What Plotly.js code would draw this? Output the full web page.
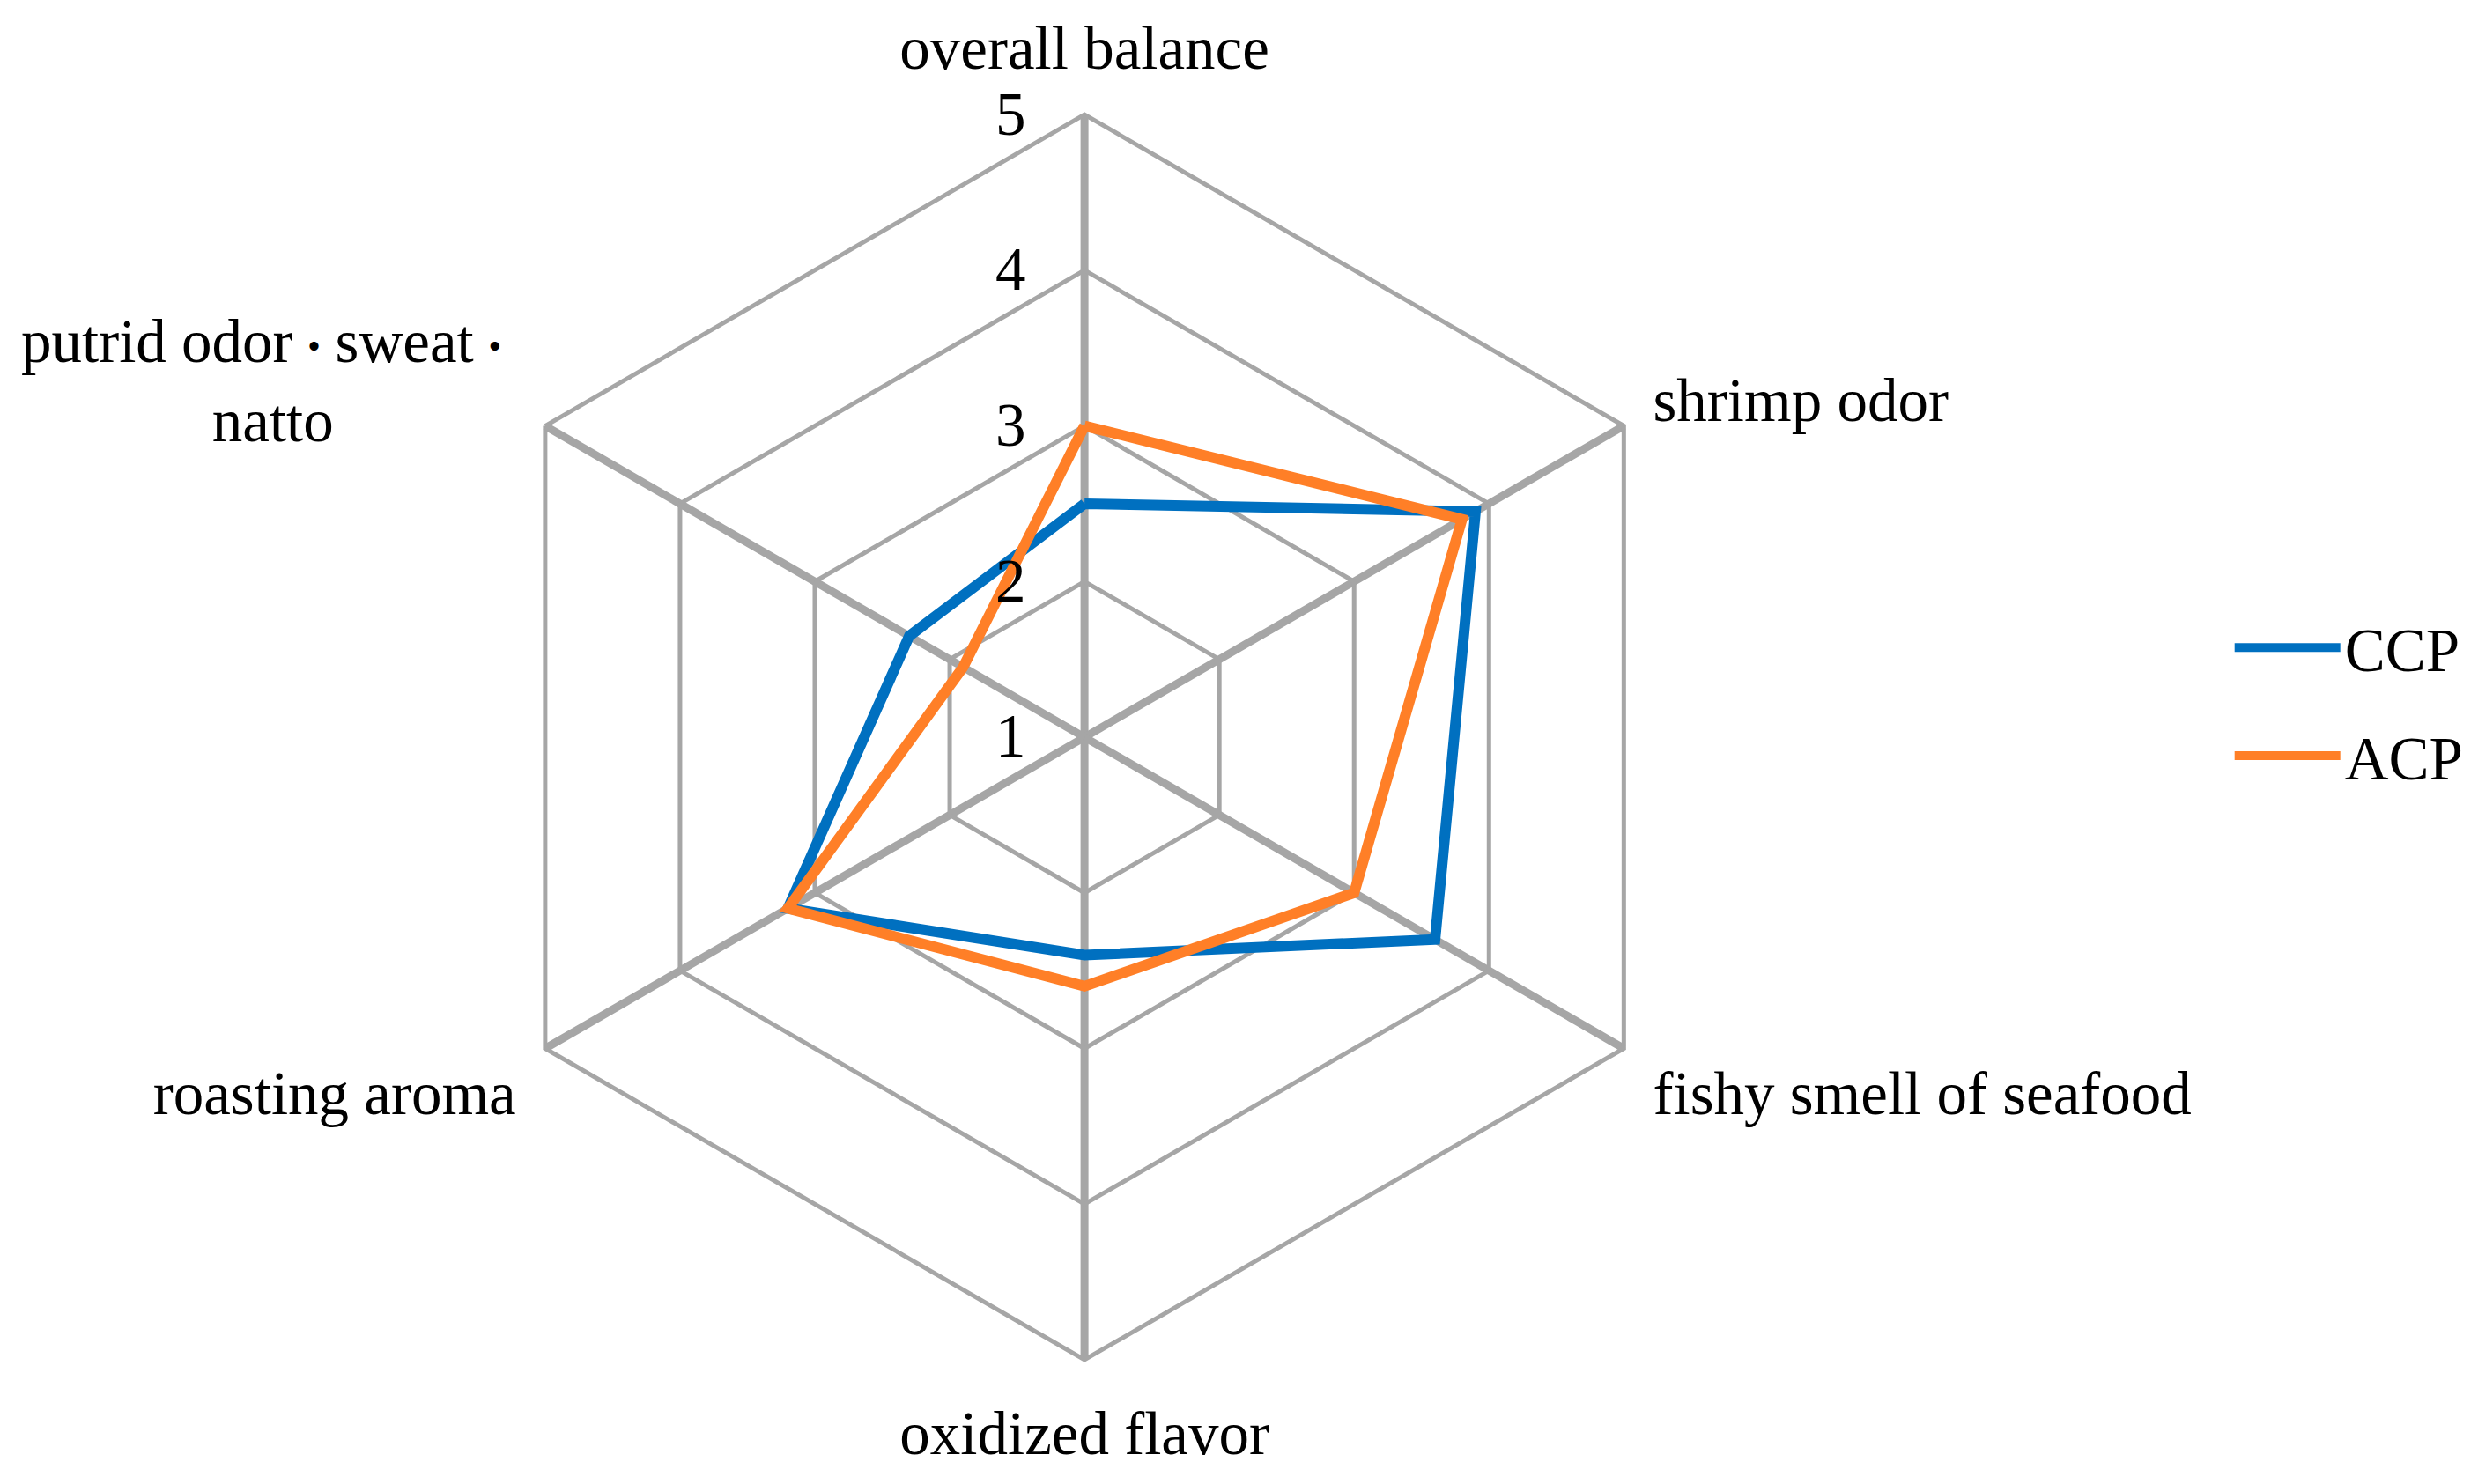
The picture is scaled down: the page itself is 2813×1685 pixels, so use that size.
<!DOCTYPE html>
<html>
<head>
<meta charset="utf-8">
<script src="https://cdn.plot.ly/plotly-3.0.1.min.js"></script>
<style>html,body{margin:0;padding:0;background:#fff;}#chart{width:2813px;height:1685px;}</style>
</head>
<body>
<div id="chart"></div>
<script>
const DOT = "<span style=\"font-size:48px\">・</span>";
const categories = ["overall balance", "shrimp odor", "fishy smell of seafood", "oxidized flavor", "roasting aroma", "putrid odor" + DOT + "sweat" + DOT + "<br>natto\u00a0\u00a0\u00a0\u00a0\u00a0\u00a0\u00a0\u00a0\u00a0\u00a0\u00a0\u00a0"];
const ccpValues = [2.5, 3.9, 3.6, 2.4, 3.2, 2.3];
const acpValues = [3.0, 3.8, 3.0, 2.6, 3.2, 1.9];
const radialTicks = [1, 2, 3, 4, 5];
const seriesNames = ["CCP", "ACP"];

function closed(arr) { return arr.concat([arr[0]]); }

const FONT = "Liberation Serif, Times New Roman, Noto Sans CJK JP, serif";
const GRID = "#A6A6A6";
const FS = 69;

const traces = [
  {type: "scatterpolar", mode: "lines", name: seriesNames[0], legendgroup: "g1", r: closed(ccpValues), theta: closed(categories),
   line: {color: "#0070C0", width: 12}},
  {type: "scatterpolar", mode: "lines", name: seriesNames[1], legendgroup: "g2", r: closed(acpValues), theta: closed(categories),
   line: {color: "#FF7F27", width: 12}}
];

const layout = {
  width: 2813, height: 1685,
  paper_bgcolor: "#fff", plot_bgcolor: "#fff",
  margin: {l: 0, r: 0, t: 0, b: 0},
  font: {family: FONT, size: FS, color: "#000"},
  showlegend: true,
  legend: {x: 0.9, y: 0.527, xanchor: "left", yanchor: "middle", font: {family: FONT, size: FS, color: "#000"},
           itemwidth: 120, tracegroupgap: 30, bgcolor: "rgba(0,0,0,0)"},
  polar: {
    domain: {x: [0.1863, 0.6890], y: [0.0837, 0.9228]},
    gridshape: "linear",
    bgcolor: "#fff",
    angularaxis: {
      direction: "clockwise", rotation: 90, type: "category",
      categoryarray: categories, categoryorder: "array",
      showline: true, linecolor: GRID, linewidth: 5,
      showgrid: true, gridcolor: GRID, gridwidth: 9,
      ticks: "outside", ticklen: 22, tickcolor: "rgba(0,0,0,0)",
      tickfont: {family: FONT, size: FS, color: "#000"}
    },
    radialaxis: {
      range: [1, 5], angle: 90, tickangle: 90,
      tickvals: radialTicks, ticktext: radialTicks.map(String),
      showline: false, ticks: "outside", ticklen: 42, tickcolor: "rgba(0,0,0,0)", side: "counterclockwise",
      showgrid: true, gridcolor: GRID, gridwidth: 5,
      tickfont: {family: FONT, size: FS, color: "#000"}
    }
  }
};

Plotly.newPlot("chart", traces, layout, {staticPlot: true, displayModeBar: false});
</script>
</body>
</html>
